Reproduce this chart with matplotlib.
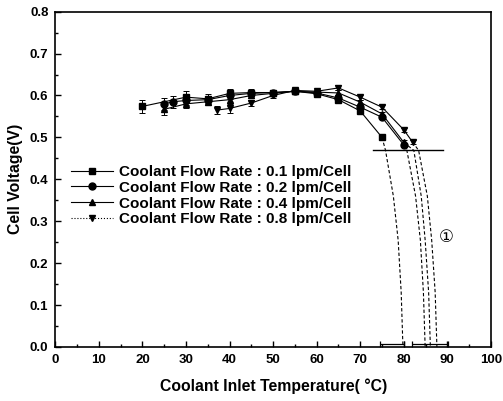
import matplotlib
matplotlib.use("Agg")
import matplotlib.pyplot as plt
from matplotlib.ticker import MultipleLocator

plt.rcParams['font.family'] = ['Liberation Sans', 'DejaVu Sans']

# ---- data ----
labels = ["Coolant Flow Rate : 0.1 lpm/Cell",
          "Coolant Flow Rate : 0.2 lpm/Cell",
          "Coolant Flow Rate : 0.4 lpm/Cell",
          "Coolant Flow Rate : 0.8 lpm/Cell"]

t_01 = [20, 30, 35, 40, 45, 50, 55, 60, 65, 70, 75]
v_01 = [0.574, 0.596, 0.592, 0.605, 0.607, 0.607, 0.610, 0.604, 0.590, 0.563, 0.500]
e_01 = [0.016, 0.014, 0.012, 0.010, 0.008, 0.006, 0.006, 0.006, 0.006, 0.006, 0.005]

t_02 = [25, 27, 30, 35, 40, 45, 50, 55, 60, 65, 70, 75, 80]
v_02 = [0.580, 0.585, 0.588, 0.590, 0.600, 0.605, 0.607, 0.610, 0.606, 0.594, 0.572, 0.548, 0.482]
e_02 = [0.014, 0.014, 0.010, 0.008, 0.008, 0.006, 0.006, 0.006, 0.006, 0.006, 0.006, 0.005, 0.005]

t_04 = [25, 30, 35, 40, 45, 50, 55, 60, 65, 70, 75, 80]
v_04 = [0.567, 0.580, 0.585, 0.590, 0.600, 0.605, 0.610, 0.608, 0.606, 0.584, 0.556, 0.488]
e_04 = [0.014, 0.010, 0.008, 0.008, 0.006, 0.006, 0.006, 0.006, 0.006, 0.006, 0.005, 0.005]

t_08 = [37, 40, 45, 50, 55, 60, 65, 70, 75, 80, 82]
v_08 = [0.565, 0.569, 0.582, 0.600, 0.612, 0.610, 0.618, 0.596, 0.572, 0.518, 0.489]
e_08 = [0.010, 0.010, 0.008, 0.006, 0.006, 0.006, 0.006, 0.006, 0.005, 0.005, 0.005]

# dashed extrapolation curves
dt_01 = [75.0, 75.8, 77.6, 78.7, 79.4, 79.8]
dt_02 = [80.0, 80.7, 82.7, 83.8, 84.5, 84.9]
dt_04 = [80.0, 82.3, 84.0, 84.9, 85.7, 86.1]
dt_08 = [82.0, 83.4, 85.4, 86.4, 87.2, 87.6]
dv_01 = [0.500, 0.469, 0.360, 0.255, 0.130, 0.0]
dv_02 = [0.482, 0.469, 0.360, 0.255, 0.130, 0.0]
dv_04 = [0.488, 0.469, 0.360, 0.255, 0.130, 0.0]
dv_08 = [0.489, 0.469, 0.360, 0.255, 0.130, 0.0]

# limit voltage line
limit_t = [73.0, 89.0]
limit_v = [0.469, 0.469]

# zero-voltage horizontal error bars
zero_t = [77.3, 86.0]
zero_v = [0.006, 0.006]
zero_err = [2.7, 4.1]

# ---- figure ----
fig = plt.figure(figsize=(5.03, 4.01), dpi=100)
ax = fig.add_axes([0.110, 0.1347, 0.866, 0.8363])

series = [
    (t_01, v_01, e_01, 's', '-', dt_01, dv_01),
    (t_02, v_02, e_02, 'o', '-', dt_02, dv_02),
    (t_04, v_04, e_04, '^', '-', dt_04, dv_04),
    (t_08, v_08, e_08, 'v', ':', dt_08, dv_08),
]
for (t, v, e, m, ls, dt, dv), lab in zip(series, labels):
    ax.errorbar(t, v, yerr=e, fmt='none', ecolor='black', elinewidth=0.7,
                capsize=2.5, capthick=0.7)
    ax.plot(t, v, color='black', lw=0.8, ls='-', marker=m, markersize=5,
            markerfacecolor='black', markeredgecolor='black')
    ax.plot([], [], color='black', lw=0.8, ls=ls, marker=m, markersize=5, label=lab)
    ax.plot(dt, dv, color='black', lw=0.8, ls=(0, (3, 2)))

ax.plot(limit_t, limit_v, color='black', lw=1.0)
ax.errorbar(zero_t, zero_v, xerr=zero_err, fmt='none', ecolor='black',
            elinewidth=0.9, capsize=2.5, capthick=0.9)

ax.text(89.8, 0.262, "①", fontsize=12, ha='center', va='center',
        family=['DejaVu Sans', 'Noto Sans CJK SC'])

ax.set_xlim(0, 100)
ax.set_ylim(0.0, 0.8)
ax.xaxis.set_major_locator(MultipleLocator(10))
ax.xaxis.set_minor_locator(MultipleLocator(5))
ax.yaxis.set_major_locator(MultipleLocator(0.1))
ax.yaxis.set_minor_locator(MultipleLocator(0.05))
ax.yaxis.set_major_formatter(plt.FuncFormatter(lambda v, p: f"{v:.1f}"))
ax.tick_params(which='both', direction='in', width=1.0)
ax.tick_params(which='major', length=4, labelsize=9.5, pad=5)
ax.tick_params(which='minor', length=2.5)
for lbl in ax.get_xticklabels() + ax.get_yticklabels():
    lbl.set_fontweight('bold')
for s in ax.spines.values():
    s.set_linewidth(1.2)

ax.set_xlabel("Coolant Inlet Temperature( °C)", fontsize=11.3, fontweight='bold', labelpad=9)
ax.set_ylabel("Cell Voltage(V)", fontsize=11.3, fontweight='bold', labelpad=5)

leg = ax.legend(loc='upper left', bbox_to_anchor=(0.023, 0.561), frameon=False,
                prop={'size': 11, 'weight': 'bold'}, handlelength=2.7,
                handletextpad=0.4, labelspacing=0.12, borderaxespad=0)

fig.savefig("out.png", dpi=100)
